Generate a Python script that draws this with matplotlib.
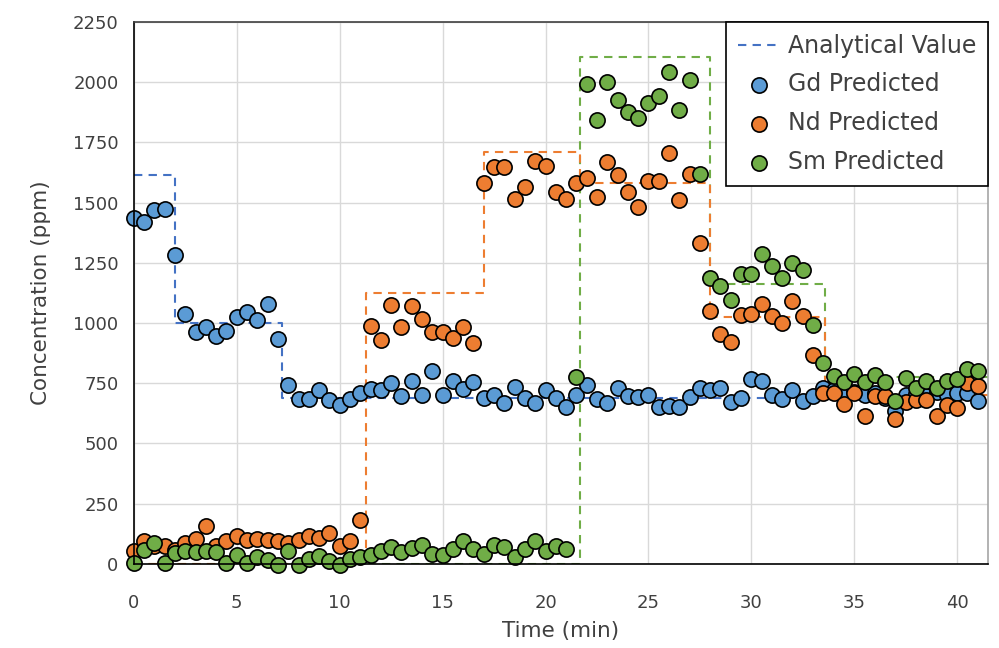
import matplotlib
matplotlib.use("Agg")
import matplotlib.pyplot as plt

plt.rcParams['font.family'] = ['DejaVu Sans']

# sample times (min)
time = [0.0, 0.5, 1.0, 1.5, 2.0, 2.5, 3.0, 3.5, 4.0, 4.5,
        5.0, 5.5, 6.0, 6.5, 7.0, 7.5, 8.0, 8.5, 9.0, 9.5,
        10.0, 10.5, 11.0, 11.5, 12.0, 12.5, 13.0, 13.5, 14.0, 14.5,
        15.0, 15.5, 16.0, 16.5, 17.0, 17.5, 18.0, 18.5, 19.0, 19.5,
        20.0, 20.5, 21.0, 21.5, 22.0, 22.5, 23.0, 23.5, 24.0, 24.5,
        25.0, 25.5, 26.0, 26.5, 27.0, 27.5, 28.0, 28.5, 29.0, 29.5,
        30.0, 30.5, 31.0, 31.5, 32.0, 32.5, 33.0, 33.5, 34.0, 34.5,
        35.0, 35.5, 36.0, 36.5, 37.0, 37.5, 38.0, 38.5, 39.0, 39.5,
        40.0, 40.5, 41.0]

gd_pred = [1436, 1418, 1470, 1474, 1283, 1037, 961, 985, 948, 965,
           1023, 1045, 1013, 1080, 934, 742, 685, 685, 720, 681,
           660, 685, 711, 725, 720, 750, 698, 757, 702, 801,
           702, 757, 725, 753, 688, 702, 667, 736, 688, 667,
           720, 688, 653, 702, 743, 685, 667, 730, 698, 692,
           702, 653, 657, 653, 692, 732, 723, 730, 670, 688,
           767, 757, 702, 685, 722, 674, 698, 730, 720, 705,
           715, 700, 710, 690, 635, 700, 705, 695, 715, 700,
           709, 709, 674]

nd_pred = [51, 93, 75, 72, 58, 86, 102, 158, 72, 93,
           116, 100, 102, 100, 93, 86, 100, 116, 107, 127,
           72, 93, 183, 988, 930, 1073, 983, 1069, 1016, 962,
           962, 937, 983, 917, 1583, 1647, 1647, 1516, 1564, 1671,
           1653, 1546, 1514, 1581, 1602, 1525, 1667, 1615, 1542, 1481,
           1588, 1588, 1705, 1509, 1620, 1334, 1048, 955, 919, 1034,
           1038, 1080, 1030, 1002, 1093, 1030, 868, 709, 711, 664,
           711, 615, 695, 698, 601, 670, 681, 681, 615, 660,
           647, 750, 740]

sm_pred = [3, 58, 86, 3, 44, 51, 47, 51, 47, 3,
           37, 3, 28, 14, -4, 55, -4, 20, 33, 10,
           -4, 20, 28, 37, 55, 69, 47, 65, 79, 42,
           37, 61, 93, 61, 42, 79, 69, 30, 61, 93,
           51, 75, 61, 775, 1993, 1844, 2003, 1927, 1878, 1850,
           1913, 1944, 2042, 1883, 2010, 1620, 1186, 1154, 1096, 1204,
           1204, 1286, 1237, 1186, 1249, 1221, 993, 833, 778, 755,
           789, 753, 785, 755, 674, 771, 730, 760, 730, 761,
           767, 810, 801]

# analytical values (step boundaries in min, level between boundaries)
gd_step_t = [0, 2.0, 7.2, 41.5]
gd_step_v = [1615, 1000, 690]
nd_step_t = [0, 11.3, 17.0, 21.7, 28.0, 33.6, 41.5]
nd_step_v = [0, 1125, 1710, 1580, 1025, 700]
sm_step_t = [0, 21.7, 28.0, 33.6, 41.5]
sm_step_v = [0, 2105, 1160, 775]

c_blue = '#5B9BD5'
c_orange = '#ED7D31'
c_green = '#70AD47'
c_text = '#404040'


def draw_steps(ax, t, v, color, label=None):
	ax.step(t, v + [v[-1]], where='post', color=color, linestyle=(0, (4, 3)),
			linewidth=1.5, label=label, zorder=2)


fig = plt.figure(figsize=(9.99, 6.48), dpi=100)
ax = fig.add_axes([0.134, 0.130, 0.855, 0.836])

draw_steps(ax, sm_step_t, sm_step_v, c_green)
draw_steps(ax, nd_step_t, nd_step_v, c_orange)
draw_steps(ax, gd_step_t, gd_step_v, '#4472C4', label='Analytical Value')

ms = 120
for vals, col, lab in [(gd_pred, c_blue, 'Gd Predicted'),
					   (nd_pred, c_orange, 'Nd Predicted'),
					   (sm_pred, c_green, 'Sm Predicted')]:
	ax.scatter(time, vals, s=ms, color=col, edgecolor='black', linewidth=1.2,
			   label=lab, zorder=3, clip_on=False)

ax.set_xlim(0, 41.5)
ax.set_ylim(0, 2250)
ax.set_xticks(range(0, 41, 5))
ax.set_yticks(range(0, 2251, 250))
ax.tick_params(axis='x', length=0, labelsize=13, pad=22, colors=c_text)
ax.tick_params(axis='y', length=0, labelsize=13, pad=11, colors=c_text)
ax.grid(True, color='#D9D9D9', linewidth=1)
ax.set_axisbelow(True)

ax.spines['left'].set_color('black')
ax.spines['bottom'].set_color('black')
ax.spines['top'].set_color(c_text)
ax.spines['right'].set_color('#A6A6A6')
for s in ax.spines.values():
	s.set_linewidth(1.2)
	s.set_zorder(4)

ax.set_xlabel('Time (min)', fontsize=15.5, color=c_text, labelpad=6)
ax.set_ylabel('Concentration (ppm)', fontsize=15.5, color=c_text, labelpad=16)

leg = ax.legend(loc='upper right', fontsize=17, frameon=True, fancybox=False,
				edgecolor='black', borderaxespad=0, handlelength=1.8,
				labelspacing=0.62, borderpad=0.5, handletextpad=0.3,
				framealpha=1)
leg.get_frame().set_linewidth(1.2)
leg.set_zorder(5)
for t in leg.get_texts():
	t.set_color(c_text)

fig.savefig('out.png', dpi=100)
